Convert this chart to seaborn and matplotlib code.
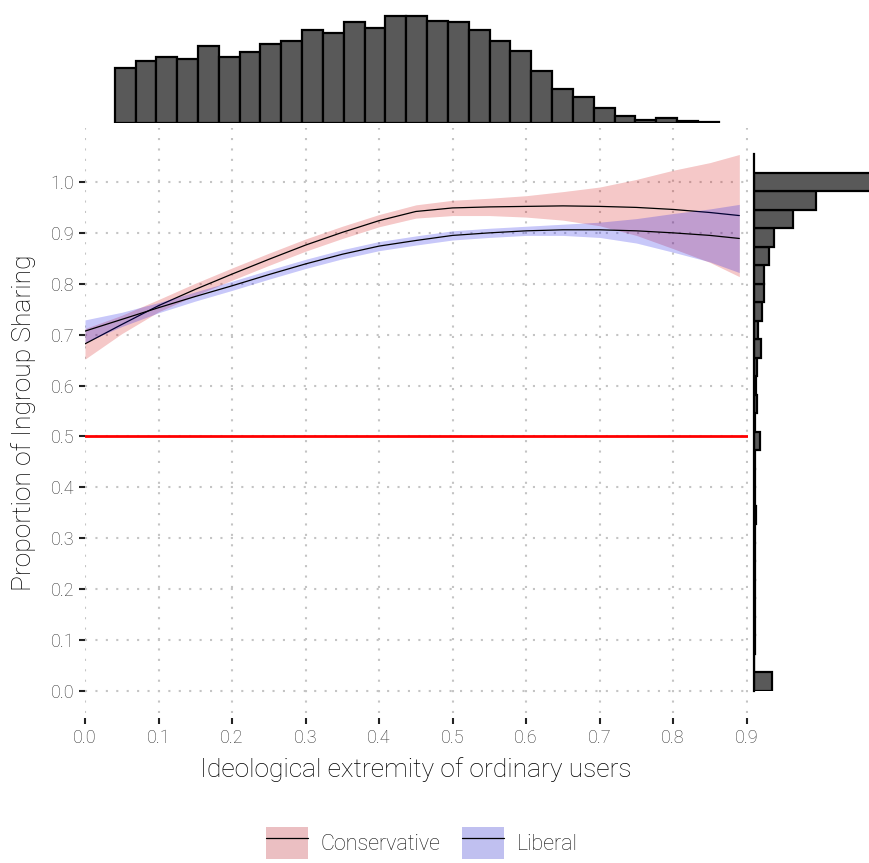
import numpy as np
import pandas as pd
import matplotlib
matplotlib.use("Agg")
import matplotlib.pyplot as plt
import seaborn as sns
from matplotlib.patches import Patch
from matplotlib.lines import Line2D

# ---------------- data ----------------
extremity = [0.00, 0.05, 0.10, 0.15, 0.20, 0.25, 0.30, 0.35, 0.40, 0.45,
             0.50, 0.55, 0.60, 0.65, 0.70, 0.75, 0.80, 0.85, 0.89]
cons_fit = [0.682, 0.720, 0.757, 0.789, 0.819, 0.848, 0.876, 0.901, 0.924, 0.942,
            0.949, 0.951, 0.952, 0.953, 0.952, 0.950, 0.946, 0.940, 0.934]
cons_se = [0.030, 0.018, 0.012, 0.012, 0.012, 0.012, 0.012, 0.012, 0.012, 0.013,
           0.015, 0.017, 0.021, 0.028, 0.038, 0.055, 0.077, 0.098, 0.120]
lib_fit = [0.707, 0.730, 0.753, 0.775, 0.796, 0.818, 0.839, 0.858, 0.874, 0.885,
           0.895, 0.900, 0.904, 0.906, 0.906, 0.904, 0.900, 0.895, 0.889]
lib_se = [0.022, 0.014, 0.010, 0.009, 0.009, 0.009, 0.009, 0.009, 0.009, 0.009,
          0.009, 0.009, 0.009, 0.011, 0.015, 0.024, 0.038, 0.052, 0.067]

# marginal histogram of x (ideological extremity), 29 bins left to right
x_hist_counts = [165, 185, 196, 190, 231, 198, 213, 236, 245, 278,
                 270, 301, 285, 320, 320, 306, 301, 278, 245, 215,
                 156, 102, 79, 45, 20, 8, 15, 6, 3]
# marginal histogram of y (ingroup sharing), 28 bins bottom (0) to top (1)
y_hist_counts = [54, 1, 3, 2, 2, 2, 3, 4, 2, 7,
                 2, 3, 3, 17, 4, 8, 6, 10, 22, 12,
                 25, 30, 29, 45, 61, 117, 185, 400]

x_ticks = [0.0, 0.1, 0.2, 0.3, 0.4, 0.5, 0.6, 0.7, 0.8, 0.9]
y_ticks = [0.0, 0.1, 0.2, 0.3, 0.4, 0.5, 0.6, 0.7, 0.8, 0.9, 1.0]
groups = ["Conservative", "Liberal"]
reference_level = 0.5

# ---------------- style ----------------
sns.set_theme(style="white")
plt.rcParams["font.family"] = ["Roboto", "DejaVu Sans"]
plt.rcParams["font.weight"] = "light"

W, H = 870, 863
fig = plt.figure(figsize=(W / 100, H / 100), dpi=100)


def px_axes(left, top, right, bottom):
    return fig.add_axes([left / W, 1 - bottom / H, (right - left) / W, (bottom - top) / H])


XLIM = (0.0, 0.9018)
ax = px_axes(85, 128, 748, 713)
ax_top = px_axes(85, 3, 748, 123)
ax_right = px_axes(754, 154, 870, 691)

# ---------------- main panel ----------------
df = pd.DataFrame({
    "extremity": extremity * 2,
    "fit": cons_fit + lib_fit,
    "se": cons_se + lib_se,
    "group": [groups[0]] * len(extremity) + [groups[1]] * len(extremity),
})
band_colors = {"Conservative": "#D20505", "Liberal": "#0505E8"}
z = 2
for g in groups:
    d = df[df["group"] == g]
    ax.fill_between(d["extremity"], d["fit"] - d["se"], d["fit"] + d["se"],
                    color=band_colors[g], alpha=0.22, linewidth=0, zorder=z)
    sns.lineplot(data=d, x="extremity", y="fit", color="black", linewidth=0.9,
                 ax=ax, legend=False, zorder=z + 1)
    z += 2

ax.axhline(reference_level, color="red", linewidth=2, zorder=z)

ax.set_xlim(*XLIM)
ax.set_ylim(-0.0432, 1.106)
ax.set_xticks(x_ticks)
ax.set_yticks(y_ticks)
ax.set_xticklabels([f"{v:.1f}" for v in x_ticks])
ax.set_yticklabels([f"{v:.1f}" for v in y_ticks])
ax.grid(True, color="#C4C4C4", linestyle=(0, (1, 4)), linewidth=1.5)
ax.set_axisbelow(True)
for s in ax.spines.values():
    s.set_visible(False)
ax.spines["bottom"].set_position(("outward", 3.6))
ax.tick_params(axis="both", length=4.5, width=1.5, color="#222222",
               labelcolor="#333333", labelsize=13, pad=3.2,
               bottom=True, left=True)
ax.set_xlabel("")
ax.set_ylabel("")

fig.text(416 / W, 1 - 770 / H, "Ideological extremity of ordinary users",
         ha="center", va="center", fontsize=19, color="#000000", fontweight="light")
fig.text(24 / W, 1 - 423 / H, "Proportion of Ingroup Sharing", rotation=90,
         ha="center", va="center", fontsize=19, color="#000000", fontweight="light")

# ---------------- top marginal histogram ----------------
x_start, x_bw = 0.0404, 0.02833
n_x = len(x_hist_counts)
top_df = pd.DataFrame({"x": x_start + x_bw * (np.arange(n_x) + 0.5),
                       "count": x_hist_counts})
sns.histplot(data=top_df, x="x", weights="count", binwidth=x_bw,
             binrange=(x_start, x_start + n_x * x_bw), ax=ax_top,
             color="#595959", alpha=1, edgecolor="black", linewidth=1.6)
ax_top.set_xlim(*XLIM)
ax_top.set_ylim(0, 359)
ax_top.axis("off")

# ---------------- right marginal histogram ----------------
y_bw = 0.03635
n_y = len(y_hist_counts)
right_df = pd.DataFrame({"y": y_bw * (np.arange(n_y) + 0.5),
                         "count": y_hist_counts})
sns.histplot(data=right_df, y="y", weights="count", binwidth=y_bw,
             binrange=(0, n_y * y_bw), ax=ax_right,
             color="#595959", alpha=1, edgecolor="black", linewidth=1.6)
ax_right.set_ylim(0, 1.055)
ax_right.set_xlim(0, 348)
for name, s in ax_right.spines.items():
    s.set_visible(name == "left")
ax_right.spines["left"].set_color("black")
ax_right.spines["left"].set_linewidth(1.6)
ax_right.set_xticks([])
ax_right.set_yticks([])
ax_right.set_xlabel("")
ax_right.set_ylabel("")
ax_right.set_facecolor("none")

# ---------------- legend ----------------
key_colors = {"Conservative": "#EBBFC2", "Liberal": "#C0C0F0"}
handles = [(Patch(facecolor=key_colors[g], edgecolor="none"),
            Line2D([], [], color="black", linewidth=0.9)) for g in groups]
fig.legend(handles, groups, loc="center", bbox_to_anchor=(422 / W, 1 - 843 / H),
           ncol=2, frameon=False, handlelength=1.95,
           handleheight=1.95, handletextpad=0.6, columnspacing=1.0,
           borderpad=0, borderaxespad=0, labelcolor="#111111",
           prop={"size": 15.5, "weight": "light"})

fig.savefig("out.png", dpi=100)
